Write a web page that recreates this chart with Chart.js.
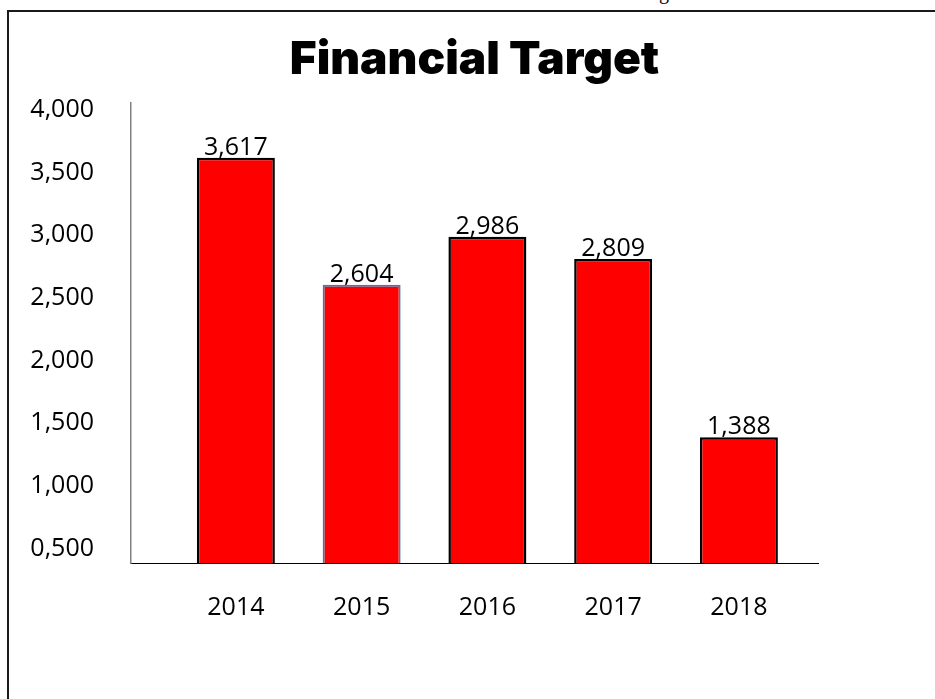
<!DOCTYPE html>
<html>
<head>
<meta charset="utf-8">
<script src="https://cdn.jsdelivr.net/npm/chart.js@4"></script>
<style>
  html, body { margin: 0; padding: 0; background: #fff; overflow: hidden; }
  #frame {
    position: absolute; left: 7px; top: 10px; width: 940px; height: 700px;
    border-left: 2px solid #1a1a1a; border-top: 2px solid #1a1a1a;
  }
  #cut {
    position: absolute; left: 659px; top: -18px;
    font: 20px/20px "Liberation Serif", serif; color: #000;
  }
  #chart { position: absolute; left: 0; top: 0; }
</style>
</head>
<body>
<div id="cut">g</div>
<div id="frame"></div>
<canvas id="chart" width="935" height="699"></canvas>
<script>
const years = ['2014', '2015', '2016', '2017', '2018'];
const targets = [3617, 2604, 2986, 2809, 1388];
const yTicks = [500, 1000, 1500, 2000, 2500, 3000, 3500, 4000];
const yTickLabels = ['0,500', '1,000', '1,500', '2,000', '2,500', '3,000', '3,500', '4,000'];

const barBorders = ['#000000', '#4a78ad', '#000000', '#000000', '#000000'];
const barBorderWidths = [2.5, 2, 2.5, 2.5, 2.5];

// value above each bar
const valueLabels = {
  id: 'valueLabels',
  afterDatasetsDraw(chart) {
    const ctx = chart.ctx;
    const meta = chart.getDatasetMeta(0);
    ctx.save();
    ctx.font = '25px "Open Sans"';
    ctx.fillStyle = '#000';
    ctx.textAlign = 'center';
    ctx.textBaseline = 'alphabetic';
    meta.data.forEach((bar, i) => {
      ctx.fillText(targets[i].toLocaleString('en-US'), bar.x, bar.y - 3);
    });
    ctx.restore();
  }
};

function draw() {
  const ctx = document.getElementById('chart').getContext('2d');
  new Chart(ctx, {
    type: 'bar',
    data: {
      datasets: [{
        data: years.map((y, i) => ({ x: i, y: targets[i] })),
        backgroundColor: '#ff0000',
        borderColor: barBorders,
        borderWidth: barBorderWidths,
        borderSkipped: false,
        barPercentage: 0.62,
        categoryPercentage: 1
      }]
    },
    options: {
      responsive: false,
      animation: false,
      devicePixelRatio: 1,
      layout: { padding: { top: 16, left: 20, right: 117, bottom: 46 } },
      plugins: {
        legend: { display: false },
        tooltip: { enabled: false },
        title: {
          display: true,
          text: 'Financial Target',
          fullSize: false,
          color: '#000',
          font: { family: 'Inter', weight: 900, size: 46 },
          padding: { top: 17, bottom: 15 }
        }
      },
      scales: {
        x: {
          type: 'linear',
          offset: false,
          min: -0.834,
          max: 4.629,
          grid: { display: false, drawTicks: false },
          border: { color: '#000', width: 1 },
          afterBuildTicks: scale => { scale.ticks = years.map((y, i) => ({ value: i })); },
          ticks: {
            callback: v => years[v],
            color: '#000',
            font: { family: 'Open Sans', size: 25 },
            padding: 30,
            maxRotation: 0,
            autoSkip: false
          }
        },
        y: {
          min: 384,
          max: 4052,
          grid: { display: false, drawTicks: false },
          border: { color: '#808080', width: 1.5 },
          afterBuildTicks: scale => { scale.ticks = yTicks.map(v => ({ value: v })); },
          afterFit: scale => { scale.width = 111; },
          ticks: {
            callback: (v, i) => yTickLabels[i],
            color: '#000',
            font: { family: 'Open Sans', size: 25 },
            padding: 37
          }
        }
      }
    },
    plugins: [valueLabels]
  });
}

Promise.all([
  document.fonts.load('900 46px Inter'),
  document.fonts.load('25px "Open Sans"')
]).then(draw, draw);
</script>
</body>
</html>
